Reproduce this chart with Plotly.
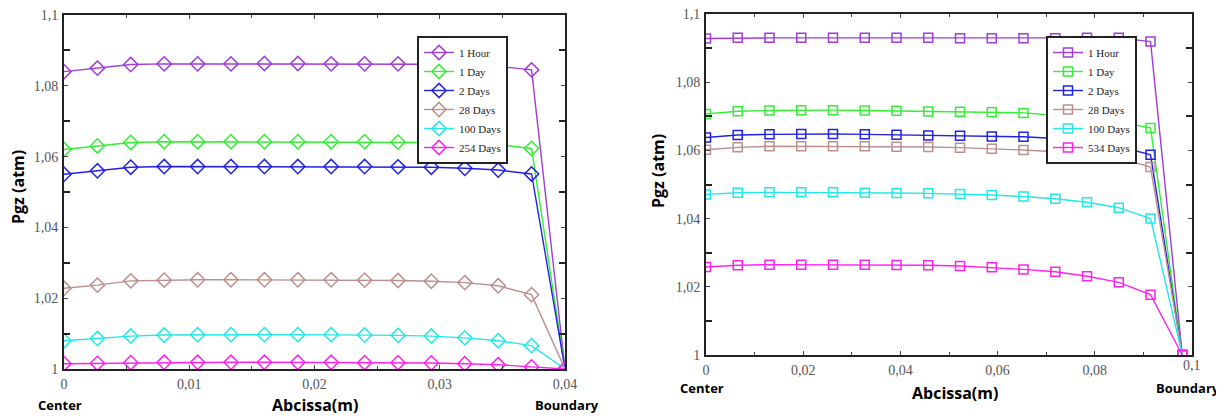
import plotly.graph_objects as go

# ---------------- data ----------------
series_names_left = ["1 Hour", "1 Day", "2 Days", "28 Days", "100 Days", "254 Days"]
series_names_right = ["1 Hour", "1 Day", "2 Days", "28 Days", "100 Days", "534 Days"]
colors = ["#A03CD8", "#33EE33", "#2222E6", "#BC8F8F", "#22E8E8", "#FF22EE"]

# left: 16 radial positions from center (0) to boundary (0.04 m)
x_left = [0.0, 0.00267, 0.00533, 0.008, 0.01067, 0.01333, 0.016, 0.01867,
          0.02133, 0.024, 0.02667, 0.02933, 0.032, 0.03467, 0.03733, 0.04]
p_1hour_L = [1.084, 1.085, 1.086, 1.0862, 1.0862, 1.0862, 1.0863, 1.0863,
             1.0862, 1.0862, 1.0862, 1.0861, 1.0859, 1.0855, 1.0845, 1.0]
p_1day_L = [1.062, 1.063, 1.064, 1.0642, 1.0642, 1.0642, 1.0642, 1.0642,
            1.0642, 1.0642, 1.0641, 1.064, 1.0638, 1.0634, 1.0623, 1.0]
p_2days_L = [1.055, 1.056, 1.057, 1.0572, 1.0572, 1.0572, 1.0572, 1.0572,
             1.0572, 1.0572, 1.0571, 1.057, 1.0567, 1.0562, 1.0551, 1.0]
p_28days_L = [1.0228, 1.0237, 1.0249, 1.0251, 1.0252, 1.0252, 1.0252, 1.0252,
              1.0252, 1.0251, 1.025, 1.0248, 1.0244, 1.0235, 1.021, 1.0]
p_100days_L = [1.008, 1.0086, 1.0093, 1.0096, 1.0097, 1.0097, 1.0097, 1.0097,
               1.0097, 1.0096, 1.0095, 1.0093, 1.0088, 1.008, 1.0066, 1.0]
p_254days_L = [1.0015, 1.0016, 1.0018, 1.0019, 1.0019, 1.0019, 1.0019, 1.0019,
               1.0019, 1.0018, 1.0018, 1.0017, 1.0015, 1.0012, 1.0006, 1.0]

# right: 16 radial positions from center (0) to boundary (0.098 m)
x_right = [0.0, 0.00653, 0.01307, 0.0196, 0.02613, 0.03267, 0.0392, 0.04573,
           0.05227, 0.0588, 0.06533, 0.07187, 0.0784, 0.08493, 0.09147, 0.098]
p_1hour_R = [1.0928, 1.093, 1.093, 1.093, 1.093, 1.093, 1.093, 1.093,
             1.0929, 1.0929, 1.0929, 1.0929, 1.093, 1.093, 1.0919, 1.0]
p_1day_R = [1.0707, 1.0715, 1.0717, 1.0718, 1.0718, 1.0717, 1.0716, 1.0714,
            1.0713, 1.0712, 1.071, 1.0703, 1.0695, 1.0683, 1.0666, 1.0]
p_2days_R = [1.0638, 1.0645, 1.0647, 1.0648, 1.0648, 1.0647, 1.0646, 1.0644,
             1.0643, 1.0641, 1.064, 1.0635, 1.0626, 1.0612, 1.0587, 1.0]
p_28days_R = [1.0602, 1.0609, 1.0612, 1.0612, 1.0612, 1.0612, 1.0611, 1.061,
              1.0608, 1.0605, 1.0601, 1.0596, 1.059, 1.0578, 1.0551, 1.0]
p_100days_R = [1.0471, 1.0476, 1.0477, 1.0477, 1.0477, 1.0476, 1.0475, 1.0474,
               1.0472, 1.0469, 1.0465, 1.0458, 1.0448, 1.0432, 1.04, 1.0]
p_534days_R = [1.0258, 1.0263, 1.0265, 1.0265, 1.0265, 1.0265, 1.0264, 1.0263,
               1.0261, 1.0257, 1.0251, 1.0244, 1.0231, 1.0213, 1.0177, 1.0]

y_tickvals = [1.0, 1.02, 1.04, 1.06, 1.08, 1.1]
y_ticktext = ["1", "1,02", "1,04", "1,06", "1,08", "1,1"]
xL_tickvals = [0.0, 0.01, 0.02, 0.03, 0.04]
xL_ticktext = ["0", "0,01", "0,02", "0,03", "0,04"]
xR_tickvals = [0.0, 0.02, 0.04, 0.06, 0.08, 0.1]
xR_ticktext = ["0", "0,02", "0,04", "0,06", "0,08", "0,1"]
y_minor = [1.01, 1.03, 1.05, 1.07, 1.09]

left_series = [p_1hour_L, p_1day_L, p_2days_L, p_28days_L, p_100days_L, p_254days_L]
right_series = [p_1hour_R, p_1day_R, p_2days_R, p_28days_R, p_100days_R, p_534days_R]

fig = go.Figure()
for name, vals, c in zip(series_names_left, left_series, colors):
    fig.add_trace(go.Scatter(
        x=x_left, y=vals, name=name, mode="lines+markers",
        line=dict(color=c, width=1.4),
        marker=dict(symbol="diamond-open", size=11, color=c, line=dict(width=1.5, color=c)),
        xaxis="x", yaxis="y", legend="legend"))
for name, vals, c in zip(series_names_right, right_series, colors):
    fig.add_trace(go.Scatter(
        x=x_right, y=vals, name=name, mode="lines+markers",
        line=dict(color=c, width=1.4),
        marker=dict(symbol="square-open", size=9, color=c, line=dict(width=1.5, color=c)),
        xaxis="x2", yaxis="y2", legend="legend2"))

# page body has an 8px default margin: the figure is offset by it
OFF = 8
W, H = 1224 - OFF, 419 - OFF


def px(xp):
    return (xp - OFF) / W


def py(yp):
    return 1 - (yp - OFF) / H


tick_font = dict(family="Liberation Serif", size=14, color="#555555")
axis_common = dict(showline=True, linecolor="#222222", linewidth=2, mirror="ticks",
                   showgrid=False, zeroline=False, ticks="inside", ticklen=4,
                   tickcolor="#444444", tickwidth=1, tickfont=tick_font,
                   ticklabelstandoff=1, automargin=False, ticklabeloverflow="allow")

legend_common = dict(xanchor="left", yanchor="top", xref="paper", yref="paper",
                     bgcolor="white", bordercolor="#222222", borderwidth=2,
                     font=dict(family="Liberation Serif", size=11, color="#222222"),
                     tracegroupgap=0, itemwidth=30)

# the last right-hand x label is written through the x2 scale as an annotation
xR_ticktext_axis = xR_ticktext[:-1] + [""]

fig.update_layout(
    width=W, height=H, margin=dict(l=0, r=0, t=0, b=0, autoexpand=False),
    paper_bgcolor="white", plot_bgcolor="white",
    xaxis=dict(domain=[px(64), px(565)], range=[0, 0.04], anchor="y",
               tickvals=xL_tickvals, ticktext=xL_ticktext,
               minor=dict(tickvals=[0.005, 0.015, 0.025, 0.035], ticks="inside", ticklen=3,
                          tickcolor="#444444"),
               **axis_common),
    yaxis=dict(domain=[py(369), py(15)], range=[1.0, 1.1], anchor="x",
               tickvals=y_tickvals, ticktext=y_ticktext,
               minor=dict(tickvals=y_minor, ticks="inside", ticklen=6, tickwidth=2,
                          tickcolor="#222222"),
               **axis_common),
    xaxis2=dict(domain=[px(706), px(1192)], range=[0, 0.1], anchor="y2",
                tickvals=xR_tickvals, ticktext=xR_ticktext_axis,
                minor=dict(tickvals=[0.01, 0.03, 0.05, 0.07, 0.09], ticks="inside", ticklen=3,
                           tickcolor="#444444"),
                **axis_common),
    yaxis2=dict(domain=[py(355), py(14)], range=[1.0, 1.1], anchor="x2",
                tickvals=y_tickvals, ticktext=y_ticktext,
                minor=dict(tickvals=y_minor, ticks="inside", ticklen=6, tickwidth=2,
                           tickcolor="#222222"),
                **axis_common),
    legend=dict(x=px(417), y=py(36), **legend_common),
    legend2=dict(x=px(1046), y=py(36), **legend_common),
)

fig.add_annotation(xref="x2", yref="paper", x=xR_tickvals[-1], y=py(356),
                   text=xR_ticktext[-1], showarrow=False, xanchor="center", yanchor="top",
                   font=tick_font)

title_font = dict(family="Open Sans", size=16, color="black")
small_font = dict(family="Open Sans", size=13, color="black")
annots = [
    dict(text="<b>Pgz (atm)</b>", x=px(18), y=py(187), textangle=-90, font=title_font),
    dict(text="<b>Pgz (atm)</b>", x=px(658), y=py(171), textangle=-90, font=title_font),
    dict(text="<b>Abcissa(m)</b>", x=px(315), y=py(405), font=title_font),
    dict(text="<b>Abcissa(m)</b>", x=px(955), y=py(393), font=title_font),
    dict(text="<b>Center</b>", x=px(60), y=py(405), font=small_font),
    dict(text="<b>Center</b>", x=px(702), y=py(388), font=small_font),
    dict(text="<b>Boundary</b>", x=px(567), y=py(405), font=small_font),
    dict(text="<b>Boundary</b>", x=px(1188), y=py(388), font=small_font),
]
for a in annots:
    fig.add_annotation(xref="paper", yref="paper", showarrow=False,
                       xanchor="center", yanchor="middle", **a)

fig.write_html("out.html")
